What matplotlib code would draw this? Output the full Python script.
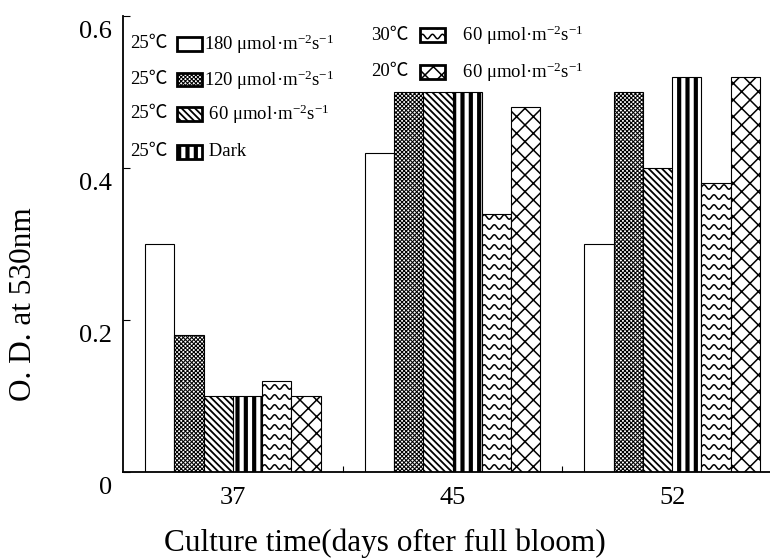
import numpy as np
import matplotlib
matplotlib.use('Agg')
import matplotlib.pyplot as plt
from matplotlib.patches import Rectangle
from matplotlib.lines import Line2D
from matplotlib.transforms import ScaledTranslation

# O.D. at 530nm
days = ['37', '45', '52']
od_180 = [0.30, 0.42, 0.30]
od_120 = [0.18, 0.50, 0.50]
od_60 = [0.10, 0.50, 0.40]
od_dark = [0.10, 0.50, 0.52]
od_30c = [0.12, 0.34, 0.38]
od_20c = [0.10, 0.48, 0.52]

temps = ['25℃', '25℃', '25℃', '25℃', '30℃', '20℃']
unit = 'μmol·m$^{-2}$s$^{-1}$'
lights = ['180 ' + unit, '120 ' + unit, ' 60 ' + unit, ' Dark', ' 60 ' + unit, ' 60 ' + unit]

plt.rcParams['font.family'] = ['Liberation Serif', 'Noto Sans CJK SC', 'DejaVu Sans']
plt.rcParams['mathtext.fontset'] = 'custom'
plt.rcParams['mathtext.rm'] = 'Liberation Serif'
plt.rcParams['mathtext.it'] = 'Liberation Serif:italic'

W, H = 770, 558
hatches = ['', 'xxxxxxxx', '\\\\\\\\\\', '||', None, 'xx']
hatch_lw = [1.0, 0.75, 1.3, 3.0, 1.0, 1.1]


def px(x, y):
    return x / W, 1 - y / H


def set_hlw(p, lw):
    if hasattr(p, 'set_hatch_linewidth'):
        p.set_hatch_linewidth(lw)


def waves(patch, x0, y0, w, h, sx, sy, transform):
    # zigzag wave fill, sizes in pixels converted with sx, sy (px per unit)
    period, amp, gap = 10 / sx, 2.2 / sy, 10 / sy
    xs = np.linspace(x0, x0 + w, 80)
    yc = y0 + gap / 2
    while yc < y0 + h + gap:
        ys = yc + amp * np.sin(2 * np.pi * (xs - x0) / period)
        ln = Line2D(xs, ys, color='k', lw=1.1, transform=transform, zorder=3)
        ln.set_clip_path(patch)
        fig.add_artist(ln)
        yc += gap


fig = plt.figure(figsize=(7.7, 5.58), dpi=100)
ax = fig.add_axes([123 / W, 1 - 472 / H, 659 / W, 456 / H])

series = [od_180, od_120, od_60, od_dark, od_30c, od_20c]
x = np.arange(len(days))
bw = 0.8 / len(series)
for i, vals in enumerate(series):
    pos = x - 0.4 + bw * (i + 0.5)
    bars = ax.bar(pos, vals, bw, color='white', edgecolor='black', linewidth=0.8,
                  hatch=hatches[i] if hatches[i] else None, zorder=2)
    for b in bars:
        set_hlw(b, hatch_lw[i])
    if hatches[i] is None:
        sx = 659 / 3.0
        sy = 456 / 0.6
        for b in bars:
            waves(b, b.get_x(), 0, b.get_width(), b.get_height(), sx, sy, ax.transData)

ax.set_xlim(-0.5, 2.5)
ax.set_ylim(0, 0.6)
ax.set_xticks(x)
ax.set_xticklabels(days)
ax.set_xticks([0.5, 1.5], minor=True)
ax.set_yticks([0, 0.2, 0.4, 0.6])
ax.set_yticklabels(['0', '0.2', '0.4', '0.6'])
ax.tick_params(axis='x', which='major', length=0, pad=11, labelsize=19)
ax.tick_params(axis='x', which='minor', direction='in', length=4, width=0.8)
ax.tick_params(axis='y', direction='in', length=5, width=0.8, pad=8, labelsize=19)
# the source sets its y labels a little below the ticks
shift = ScaledTranslation(0, -13 / 100, fig.dpi_scale_trans)
for lab in ax.get_yticklabels():
    lab.set_transform(lab.get_transform() + shift)
for s in ['top', 'right']:
    ax.spines[s].set_visible(False)
for s in ['left', 'bottom']:
    ax.spines[s].set_linewidth(1.3)

ax.set_xlabel('Culture time(days ofter full bloom)', fontsize=22.5)
ax.xaxis.set_label_coords((385 - 123) / 659, (472 - 528) / 456)
ax.set_ylabel('O. D. at 530nm', fontsize=22.5)
ax.yaxis.set_label_coords((38 - 123) / 659, (472 - 304) / 456)

# legend blocks drawn in figure pixels
rows = [(130, 177, 204, 44), (130, 177, 204, 80), (130, 177, 204, 114), (130, 177, 204, 152),
        (371, 420, 458, 35), (371, 420, 458, 72)]
for i, (tx, bx, lx, ry) in enumerate(rows):
    fig.text(*px(tx, ry), temps[i], fontsize=13.5, ha='left', va='center')
    bwid, bh = 25, 13
    rx, rb = px(bx, ry + bh / 2)
    rect = Rectangle((rx, rb), bwid / W, bh / H, transform=fig.transFigure,
                     facecolor='white', edgecolor='black', linewidth=2.0,
                     hatch=hatches[i] if hatches[i] else None)
    set_hlw(rect, hatch_lw[i])
    fig.add_artist(rect)
    if hatches[i] is None:
        waves(rect, rx, rb, bwid / W, bh / H, W, H, fig.transFigure)
    fig.text(*px(lx, ry), lights[i], fontsize=13.5, ha='left', va='center')

fig.savefig('out.png', dpi=100)
